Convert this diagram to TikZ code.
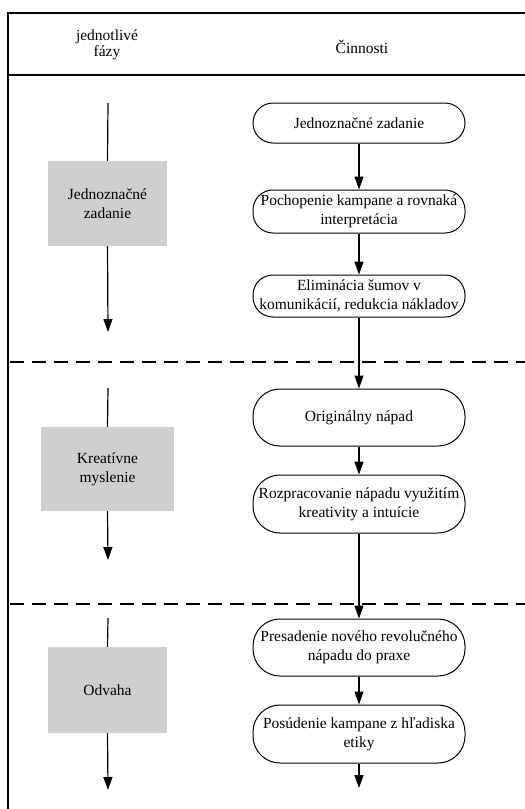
\documentclass[tikz,border=0pt]{standalone}
\usepackage{fontspec}
\setmainfont{Liberation Serif}
\usetikzlibrary{arrows.meta}

\begin{document}
\begin{tikzpicture}[x=1pt, y=-1pt,
    every node/.style={font=\fontsize{15.5}{19}\selectfont, align=center},
    phase/.style={fill=black!19, inner sep=0pt},
    activity/.style={draw, line width=1pt, rounded corners=20pt, minimum width=212pt, inner sep=0pt},
    tall/.style={rounded corners=27pt},
    flow/.style={line width=1.2pt, -{Triangle[length=13pt, width=9pt]}},
    border/.style={line width=1.5pt},
    divider/.style={line width=2.6pt, dash pattern=on 14pt off 8pt}]
        \useasboundingbox (0,0) rectangle (525,809);

        % Frame and header
        \draw[border] (8,809) -- (8,13) -- (525,13);
        \draw[border] (8,75) -- (525,75);
        \node (hfazy) at (107,45) {jednotlivé\\[-3pt]fázy};
        \node (hcinn) at (362,47) {Činnosti};

        % Phase dividers
        \draw[divider] (10,362) -- (525,362);
        \draw[divider] (10,604) -- (525,604);

        % Draw nodes (phases)
        \node[phase, minimum width=119pt, minimum height=85pt] (f1) at (107.5,203.5) {Jednoznačné\\zadanie};
        \node[phase, minimum width=133pt, minimum height=84pt] (f2) at (107.5,469) {Kreatívne\\myslenie};
        \node[phase, minimum width=119pt, minimum height=86pt] (f3) at (107.5,690) {Odvaha};

        \coordinate (f1in) at (108,103);
        \coordinate (f1out) at (108,332);
        \coordinate (f2in) at (108,388);
        \coordinate (f2out) at (108,560);
        \coordinate (f3in) at (108,618);
        \coordinate (f3out) at (108,790);

        % Draw nodes (activities)
        \node[activity, minimum height=40pt] (a1) at (359,123) {Jednoznačné zadanie};
        \node[activity, minimum height=43pt] (a2) at (359,211.5) {Pochopenie kampane a rovnaká\\interpretácia};
        \node[activity, minimum height=42pt] (a3) at (359,296) {Eliminácia šumov v\\komunikácií, redukcia nákladov};
        \node[activity, tall, minimum height=57pt] (a4) at (359,417.5) {Originálny nápad};
        \node[activity, tall, minimum height=58pt] (a5) at (359,504) {Rozpracovanie nápadu využitím\\kreativity a intuície};
        \node[activity, tall, minimum height=57pt] (a6) at (359,647.5) {Presadenie nového revolučného\\nápadu do praxe};
        \node[activity, tall, minimum height=58pt] (a7) at (359,734) {Posúdenie kampane z hľadiska\\etiky};
        \coordinate (aend) at (359,788);

        % Draw connections
        \draw[line width=1.2pt] (f1in) -- (f1.north);
        \draw[flow] (f1.south) -- (f1out);
        \draw[line width=1.2pt] (f2in) -- (f2.north);
        \draw[flow] (f2.south) -- (f2out);
        \draw[line width=1.2pt] (f3in) -- (f3.north);
        \draw[flow] (f3.south) -- (f3out);

        \draw[flow] (a1) -- (a2);
        \draw[flow] (a2) -- (a3);
        \draw[flow] (a3) -- (a4);
        \draw[flow] (a4) -- (a5);
        \draw[flow] (a5) -- (a6);
        \draw[flow] (a6) -- (a7);
        \draw[flow] (a7) -- (aend);
    \end{tikzpicture}
\end{document}
